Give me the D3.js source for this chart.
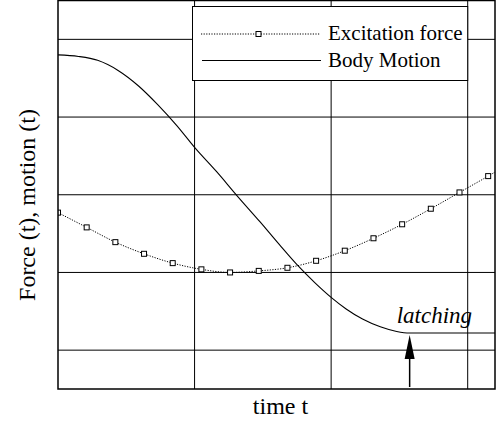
<!DOCTYPE html>
<html>
<head>
<meta charset="utf-8">
<script src="https://cdn.jsdelivr.net/npm/d3@7"></script>
<style>
  body { margin: 0; background: #fff; }
  text { font-family: "Liberation Serif", "Times New Roman", serif; fill: #000; }
</style>
</head>
<body>
<svg id="canvas"></svg>
<script>
// time values (t) and readings
let forceT = [0, 0.21, 0.42, 0.63, 0.84, 1.05, 1.26, 1.47, 1.68, 1.89, 2.10, 2.31, 2.52, 2.73, 2.94, 3.15, 3.36];
let forceV = [0.77, 0.58, 0.39, 0.24, 0.12, 0.04, 0.0, 0.02, 0.06, 0.15, 0.28, 0.44, 0.62, 0.82, 1.03, 1.24, 1.46];

let motionT = [0, 0.15, 0.29, 0.44, 0.59, 0.73, 0.87, 1.0, 1.16, 1.31, 1.48, 1.62, 1.75, 1.88, 2.0, 2.11, 2.23, 2.36, 2.48, 2.575, 3.2];
let motionV = [2.80, 2.78, 2.73, 2.60, 2.40, 2.16, 1.89, 1.61, 1.30, 0.99, 0.65, 0.36, 0.10, -0.13, -0.32, -0.47, -0.60, -0.70, -0.76, -0.78, -0.78];

let xGrid = [1, 2, 3];
let yGrid = [-1, 0, 1, 2, 3];

let latchT = 2.575;

let width = 497;
let height = 425;
let plotLeft = 58;
let plotRight = 495;
let plotTop = 0.5;
let plotBottom = 389;

let canvas = d3.select("#canvas").attr("width", width).attr("height", height);

let xScale = d3.scaleLinear().domain([0, 3.2]).range([plotLeft, plotRight]);
let yScale = d3.scaleLinear().domain([-1.5, 3.5]).range([plotBottom, plotTop]);

canvas.append("defs").append("clipPath").attr("id", "plot")
  .append("rect")
  .attr("x", plotLeft).attr("y", plotTop)
  .attr("width", plotRight - plotLeft).attr("height", plotBottom - plotTop);

// grid lines
canvas.append("g")
  .selectAll("line")
  .data(xGrid)
  .enter()
  .append("line")
  .attr("x1", (d) => xScale(d)).attr("x2", (d) => xScale(d))
  .attr("y1", plotTop).attr("y2", plotBottom)
  .attr("stroke", "#000").attr("stroke-width", 1);

canvas.append("g")
  .selectAll("line")
  .data(yGrid)
  .enter()
  .append("line")
  .attr("x1", plotLeft).attr("x2", plotRight)
  .attr("y1", (d) => yScale(d)).attr("y2", (d) => yScale(d))
  .attr("stroke", "#000").attr("stroke-width", 1);

let plot = canvas.append("g").attr("clip-path", "url(#plot)");

// body motion
let motion = motionT.map((t, i) => [t, motionV[i]]);
plot.append("path")
  .datum(motion)
  .attr("fill", "none")
  .attr("stroke", "#000")
  .attr("stroke-width", 1.1)
  .attr("d", d3.line().x((d) => xScale(d[0])).y((d) => yScale(d[1])).curve(d3.curveMonotoneX));

// excitation force
let force = forceT.map((t, i) => [t, forceV[i]]);
plot.append("path")
  .datum(force)
  .attr("fill", "none")
  .attr("stroke", "#000")
  .attr("stroke-width", 1)
  .attr("stroke-dasharray", "1.2,1.4")
  .attr("d", d3.line().x((d) => xScale(d[0])).y((d) => yScale(d[1])).curve(d3.curveMonotoneX));

plot.selectAll(".mark")
  .data(force)
  .enter()
  .append("rect")
  .attr("class", "mark")
  .attr("x", (d) => xScale(d[0]) - 2.5)
  .attr("y", (d) => yScale(d[1]) - 2.5)
  .attr("width", 5).attr("height", 5)
  .attr("fill", "#fff").attr("stroke", "#000").attr("stroke-width", 1);

// frame
canvas.append("rect")
  .attr("x", plotLeft).attr("y", plotTop)
  .attr("width", plotRight - plotLeft).attr("height", plotBottom - plotTop)
  .attr("fill", "none").attr("stroke", "#000").attr("stroke-width", 1.5);

// legend
let legend = canvas.append("g");
legend.append("rect")
  .attr("x", 192.5).attr("y", 6.5)
  .attr("width", xScale(3) - 192.5).attr("height", 74)
  .attr("fill", "#fff").attr("stroke", "#000").attr("stroke-width", 1);
legend.append("line")
  .attr("x1", 201).attr("x2", 320).attr("y1", 34).attr("y2", 34)
  .attr("stroke", "#000").attr("stroke-width", 1).attr("stroke-dasharray", "1.2,1.4");
legend.append("rect")
  .attr("x", 256).attr("y", 31.5).attr("width", 5).attr("height", 5)
  .attr("fill", "#fff").attr("stroke", "#000").attr("stroke-width", 1);
legend.append("line")
  .attr("x1", 202).attr("x2", 321).attr("y1", 60.5).attr("y2", 60.5)
  .attr("stroke", "#000").attr("stroke-width", 1.1);
legend.append("text")
  .attr("x", 328).attr("y", 40)
  .style("font-size", "21px")
  .text("Excitation force");
legend.append("text")
  .attr("x", 328).attr("y", 66.5)
  .style("font-size", "21px")
  .text("Body Motion");

// latching marker
let latchV = motionV[motionT.indexOf(latchT)];
let ax = xScale(latchT);
let tipY = yScale(latchV) + 2;
canvas.append("line")
  .attr("x1", ax).attr("x2", ax)
  .attr("y1", plotBottom - 2).attr("y2", tipY + 20)
  .attr("stroke", "#000").attr("stroke-width", 1.5);
canvas.append("path")
  .attr("d", "M" + ax + "," + tipY + "L" + (ax - 5) + "," + (tipY + 24) + "L" + (ax + 5) + "," + (tipY + 24) + "Z")
  .attr("fill", "#000");
canvas.append("text")
  .attr("x", ax - 13)
  .attr("y", yScale(latchV) - 10)
  .style("font-size", "23px")
  .style("font-style", "italic")
  .text("latching");

// axis titles
canvas.append("text")
  .attr("x", 280.5)
  .attr("y", 414)
  .attr("text-anchor", "middle")
  .style("font-size", "24px")
  .text("time t");

canvas.append("text")
  .attr("transform", "translate(35, 205) rotate(-90)")
  .attr("text-anchor", "middle")
  .style("font-size", "24px")
  .text("Force (t), motion (t)");
</script>
</body>
</html>
